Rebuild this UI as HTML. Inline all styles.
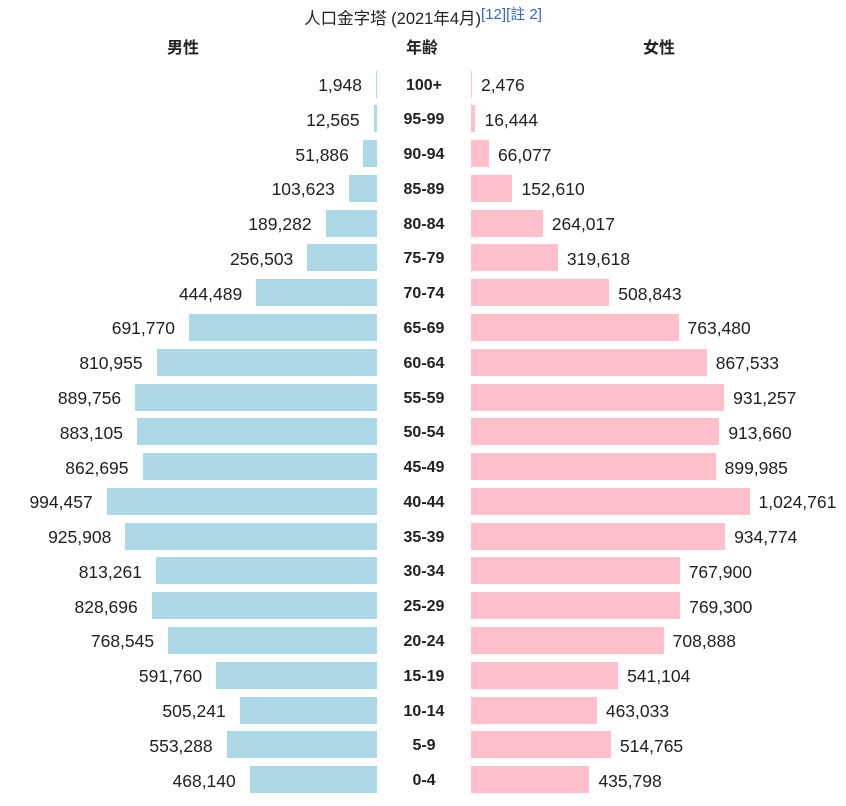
<!DOCTYPE html>
<html><head><meta charset="utf-8"><style>
body{margin:0;width:846px;height:806px;background:#fff;font-family:"Liberation Sans","Noto Sans CJK TC",sans-serif;color:#202122;position:relative;overflow:hidden}
div{position:absolute;white-space:nowrap}
.b{height:27px}
.m{background:#add8e6}
.f{background:#ffc0cb}
.v{font-size:17.5px;line-height:20px}
.a{font-size:16px;font-weight:bold;width:100px;text-align:center;left:374px;line-height:20px}
.h{font-size:16px;font-weight:bold;line-height:20px;top:39px}
</style></head><body>
<div style="left:0;width:846px;text-align:center;top:5px;font-size:16.5px;line-height:20px">人口金字塔 (2021年4月)<sup style="color:#3366cc;font-size:15px;vertical-align:5px">[12][註 2]</sup></div>
<div class="h" style="left:167px">男性</div>
<div class="h" style="left:406px">年齢</div>
<div class="h" style="left:643px">女性</div>
<div id="c"></div>
<script>
var d=[["100+",1948,2476],["95-99",12565,16444],["90-94",51886,66077],["85-89",103623,152610],["80-84",189282,264017],["75-79",256503,319618],["70-74",444489,508843],["65-69",691770,763480],["60-64",810955,867533],["55-59",889756,931257],["50-54",883105,913660],["45-49",862695,899985],["40-44",994457,1024761],["35-39",925908,934774],["30-34",813261,767900],["25-29",828696,769300],["20-24",768545,708888],["15-19",591760,541104],["10-14",505241,463033],["5-9",553288,514765],["0-4",468140,435798]];
var s=0.0002718,h="";
function f(n){return n.toLocaleString("en-US")}
d.forEach(function(r,i){var c=84+34.78*i,t=c-13.5;
var mw=Math.max(1,r[1]*s),fw=Math.max(1,r[2]*s);
h+='<div class="b m" style="left:'+(377-mw)+'px;width:'+mw+'px;top:'+t+'px"></div>';
h+='<div class="b f" style="left:471px;width:'+fw+'px;top:'+t+'px"></div>';
h+='<div class="v" style="right:'+(846-(377-mw-14))+'px;top:'+(c-9)+'px">'+f(r[1])+'</div>';
h+='<div class="v" style="left:'+(471+fw+9)+'px;top:'+(c-9)+'px">'+f(r[2])+'</div>';
h+='<div class="a" style="top:'+(c-8.5)+'px">'+r[0]+'</div>';});
document.getElementById("c").outerHTML=h;
</script>
</body></html>
